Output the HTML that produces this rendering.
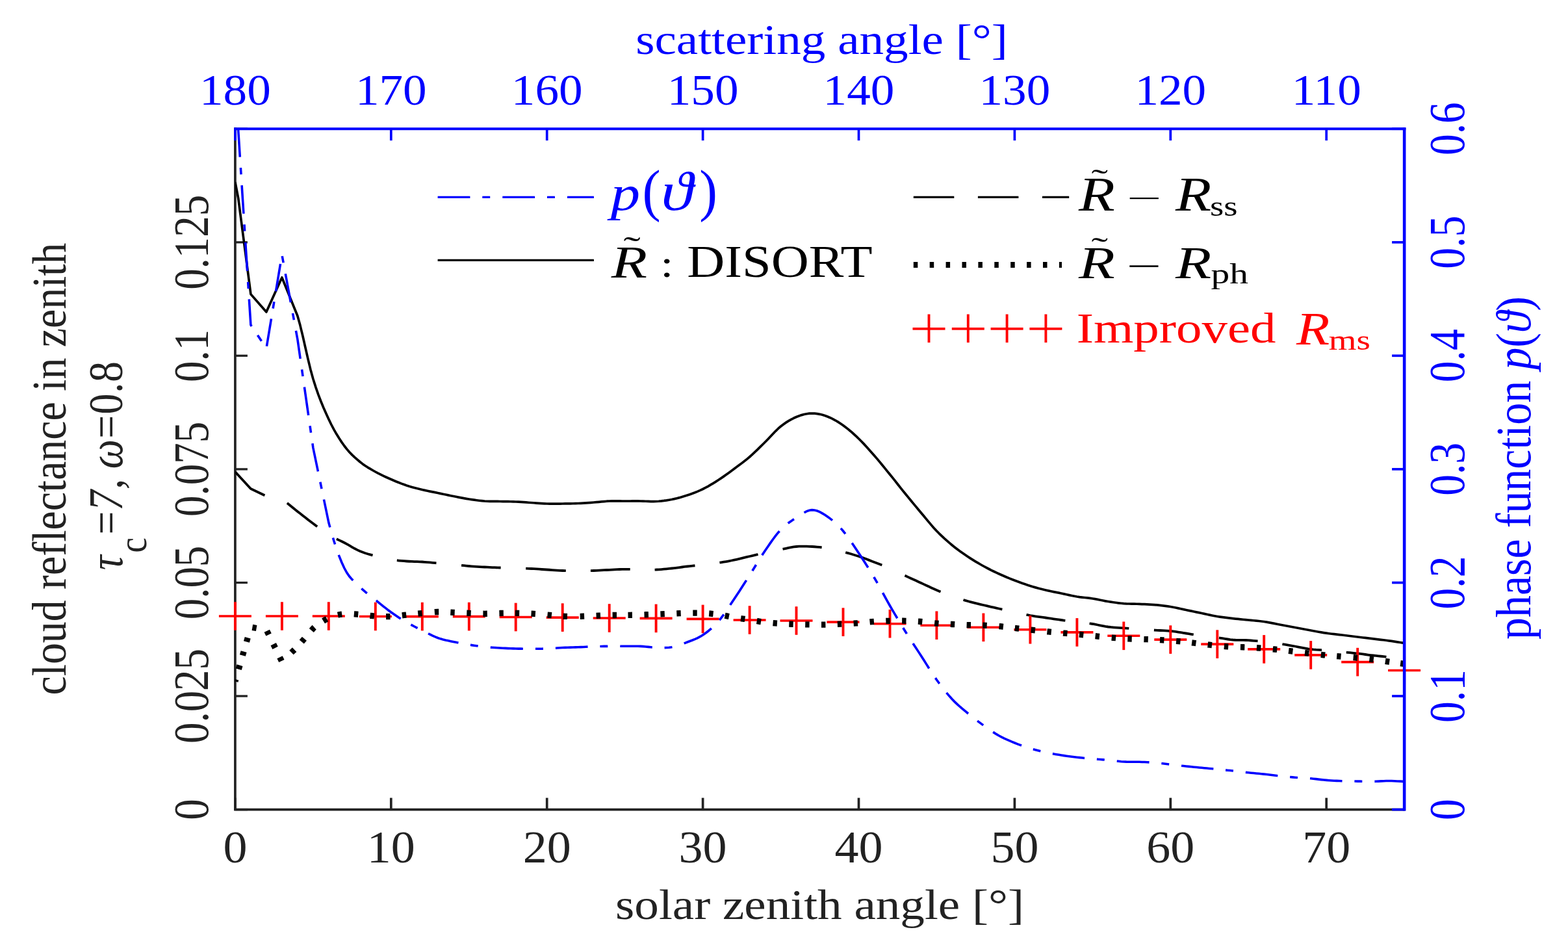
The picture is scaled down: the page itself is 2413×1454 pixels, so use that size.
<!DOCTYPE html>
<html><head><meta charset="utf-8"><style>
html,body{margin:0;padding:0;background:#fff;}
svg{display:block;}
text{font-family:'Liberation Serif',serif;font-variant-ligatures:none;font-kerning:normal;}
</style></head><body>
<svg width="2413" height="1454" viewBox="0 0 2413 1454">
<rect width="2413" height="1454" fill="#fff"/>
<path d="M361.9,198.2 V1245.6 H2161.1" stroke="#222222" stroke-width="3.7" fill="none" stroke-linecap="square"/>
<line x1="361.9" y1="1245.6" x2="380.9" y2="1245.6" stroke="#222222" stroke-width="3.3"/>
<line x1="361.9" y1="1071.0" x2="380.9" y2="1071.0" stroke="#222222" stroke-width="3.3"/>
<line x1="361.9" y1="896.5" x2="380.9" y2="896.5" stroke="#222222" stroke-width="3.3"/>
<line x1="361.9" y1="721.9" x2="380.9" y2="721.9" stroke="#222222" stroke-width="3.3"/>
<line x1="361.9" y1="547.3" x2="380.9" y2="547.3" stroke="#222222" stroke-width="3.3"/>
<line x1="361.9" y1="372.8" x2="380.9" y2="372.8" stroke="#222222" stroke-width="3.3"/>
<line x1="361.9" y1="198.2" x2="380.9" y2="198.2" stroke="#222222" stroke-width="3.3"/>
<line x1="361.9" y1="1245.6" x2="361.9" y2="1227.6" stroke="#222222" stroke-width="3.7"/>
<line x1="601.8" y1="1245.6" x2="601.8" y2="1227.6" stroke="#222222" stroke-width="3.7"/>
<line x1="841.7" y1="1245.6" x2="841.7" y2="1227.6" stroke="#222222" stroke-width="3.7"/>
<line x1="1081.6" y1="1245.6" x2="1081.6" y2="1227.6" stroke="#222222" stroke-width="3.7"/>
<line x1="1321.5" y1="1245.6" x2="1321.5" y2="1227.6" stroke="#222222" stroke-width="3.7"/>
<line x1="1561.4" y1="1245.6" x2="1561.4" y2="1227.6" stroke="#222222" stroke-width="3.7"/>
<line x1="1801.3" y1="1245.6" x2="1801.3" y2="1227.6" stroke="#222222" stroke-width="3.7"/>
<line x1="2041.2" y1="1245.6" x2="2041.2" y2="1227.6" stroke="#222222" stroke-width="3.7"/>
<defs><clipPath id="ax"><rect x="361.9" y="198.2" width="1799.3" height="1047.4"/></clipPath></defs>
<g clip-path="url(#ax)"><path d="M361.90,280.00 L366.70,305.00 L385.89,452.60 L409.88,480.00 L433.87,427.00 L457.86,486.00 L461.86,500.37 L465.86,516.81 L469.85,534.31 L473.85,551.85 L477.85,568.42 L481.85,583.00 L485.85,595.60 L489.85,607.04 L493.84,617.50 L497.84,627.19 L501.84,636.29 L505.84,645.00 L509.84,653.24 L513.84,660.83 L517.83,667.84 L521.83,674.33 L525.83,680.36 L529.83,686.00 L533.83,691.14 L537.83,695.72 L541.82,699.84 L545.82,703.61 L549.82,707.13 L553.82,710.50 L557.82,713.65 L561.82,716.48 L565.81,719.06 L569.81,721.46 L573.81,723.75 L577.81,726.00 L581.81,728.17 L585.81,730.20 L589.80,732.12 L593.80,733.96 L597.80,735.75 L601.80,737.50 L605.80,739.23 L609.80,740.93 L613.79,742.56 L617.79,744.13 L621.79,745.61 L625.79,747.00 L629.79,748.27 L633.79,749.44 L637.78,750.53 L641.78,751.56 L645.78,752.54 L649.78,753.50 L653.78,754.42 L657.78,755.28 L661.77,756.09 L665.77,756.89 L669.77,757.68 L673.77,758.50 L677.77,759.34 L681.77,760.19 L685.76,761.03 L689.76,761.87 L693.76,762.70 L697.76,763.50 L701.76,764.30 L705.76,765.09 L709.75,765.88 L713.75,766.63 L717.75,767.34 L721.75,768.00 L725.75,768.62 L729.75,769.20 L733.75,769.75 L737.74,770.24 L741.74,770.66 L745.74,771.00 L749.74,771.23 L753.74,771.35 L757.74,771.41 L761.73,771.43 L765.73,771.45 L769.73,771.50 L773.73,771.57 L777.73,771.63 L781.73,771.69 L785.72,771.76 L789.72,771.86 L793.72,772.00 L797.72,772.19 L801.72,772.43 L805.71,772.69 L809.71,772.96 L813.71,773.24 L817.71,773.50 L821.71,773.77 L825.71,774.06 L829.70,774.34 L833.70,774.61 L837.70,774.84 L841.70,775.00 L845.70,775.09 L849.70,775.13 L853.69,775.12 L857.69,775.09 L861.69,775.05 L865.69,775.00 L869.69,774.96 L873.69,774.91 L877.68,774.84 L881.68,774.76 L885.68,774.65 L889.68,774.50 L893.68,774.31 L897.68,774.09 L901.67,773.84 L905.67,773.57 L909.67,773.29 L913.67,773.00 L917.67,772.67 L921.67,772.30 L925.66,771.91 L929.66,771.54 L933.66,771.22 L937.66,771.00 L941.66,770.88 L945.66,770.85 L949.65,770.88 L953.65,770.93 L957.65,770.98 L961.65,771.00 L965.65,770.99 L969.65,770.98 L973.64,770.97 L977.64,770.96 L981.64,770.97 L985.64,771.00 L989.64,771.09 L993.64,771.26 L997.63,771.44 L1001.63,771.57 L1005.63,771.61 L1009.63,771.50 L1013.63,771.24 L1017.63,770.89 L1021.62,770.44 L1025.62,769.89 L1029.62,769.24 L1033.62,768.50 L1037.62,767.65 L1041.62,766.70 L1045.61,765.66 L1049.61,764.52 L1053.61,763.30 L1057.61,762.00 L1061.61,760.64 L1065.61,759.22 L1069.61,757.72 L1073.60,756.11 L1077.60,754.38 L1081.60,752.50 L1085.60,750.46 L1089.60,748.28 L1093.59,745.97 L1097.59,743.56 L1101.59,741.06 L1105.59,738.50 L1109.59,735.86 L1113.59,733.11 L1117.59,730.28 L1121.58,727.39 L1125.58,724.45 L1129.58,721.50 L1133.58,718.56 L1137.58,715.61 L1141.57,712.62 L1145.57,709.56 L1149.57,706.36 L1153.57,703.00 L1157.57,699.44 L1161.57,695.70 L1165.57,691.84 L1169.56,687.91 L1173.56,683.94 L1177.56,680.00 L1181.56,675.95 L1185.56,671.72 L1189.55,667.47 L1193.55,663.33 L1197.55,659.46 L1201.55,656.00 L1205.55,652.93 L1209.55,650.13 L1213.55,647.59 L1217.54,645.31 L1221.54,643.29 L1225.54,641.50 L1229.54,639.94 L1233.54,638.61 L1237.53,637.53 L1241.53,636.72 L1245.53,636.20 L1249.53,636.00 L1253.53,636.13 L1257.53,636.57 L1261.53,637.31 L1265.52,638.31 L1269.52,639.55 L1273.52,641.00 L1277.52,642.68 L1281.52,644.61 L1285.51,646.78 L1289.51,649.17 L1293.51,651.75 L1297.51,654.50 L1301.51,657.45 L1305.51,660.61 L1309.50,663.97 L1313.50,667.50 L1317.50,671.18 L1321.50,675.00 L1325.50,678.98 L1329.50,683.15 L1333.49,687.47 L1337.49,691.91 L1341.49,696.43 L1345.49,701.00 L1349.49,705.65 L1353.49,710.41 L1357.48,715.25 L1361.48,720.15 L1365.48,725.07 L1369.48,730.00 L1373.48,734.95 L1377.48,739.96 L1381.47,745.00 L1385.47,750.04 L1389.47,755.05 L1393.47,760.00 L1397.47,764.90 L1401.47,769.78 L1405.46,774.62 L1409.46,779.44 L1413.46,784.24 L1417.46,789.00 L1421.46,793.79 L1425.46,798.63 L1429.45,803.44 L1433.45,808.15 L1437.45,812.69 L1441.45,817.00 L1445.45,821.07 L1449.45,824.94 L1453.44,828.66 L1457.44,832.22 L1461.44,835.66 L1465.44,839.00 L1469.44,842.21 L1473.44,845.28 L1477.43,848.22 L1481.43,851.06 L1485.43,853.81 L1489.43,856.50 L1493.43,859.12 L1497.43,861.65 L1501.42,864.09 L1505.42,866.46 L1509.42,868.76 L1513.42,871.00 L1517.42,873.17 L1521.42,875.26 L1525.41,877.28 L1529.41,879.24 L1533.41,881.14 L1537.41,883.00 L1541.41,884.80 L1545.41,886.54 L1549.40,888.22 L1553.40,889.85 L1557.40,891.44 L1561.40,893.00 L1565.40,894.53 L1569.40,896.02 L1573.39,897.47 L1577.39,898.87 L1581.39,900.22 L1585.39,901.50 L1589.39,902.72 L1593.39,903.87 L1597.38,904.97 L1601.38,906.02 L1605.38,907.03 L1609.38,908.00 L1613.38,908.92 L1617.38,909.78 L1621.38,910.59 L1625.37,911.39 L1629.37,912.18 L1633.37,913.00 L1637.37,913.86 L1641.37,914.74 L1645.36,915.62 L1649.36,916.48 L1653.36,917.28 L1657.36,918.00 L1661.36,918.60 L1665.36,919.09 L1669.35,919.53 L1673.35,919.96 L1677.35,920.44 L1681.35,921.00 L1685.35,921.68 L1689.35,922.44 L1693.34,923.24 L1697.34,924.05 L1701.34,924.81 L1705.34,925.50 L1709.34,926.12 L1713.34,926.72 L1717.33,927.28 L1721.33,927.79 L1725.33,928.23 L1729.33,928.60 L1733.33,928.86 L1737.33,929.02 L1741.32,929.12 L1745.32,929.19 L1749.32,929.27 L1753.32,929.40 L1757.32,929.56 L1761.32,929.71 L1765.31,929.87 L1769.31,930.06 L1773.31,930.30 L1777.31,930.60 L1781.31,930.96 L1785.31,931.36 L1789.30,931.81 L1793.30,932.31 L1797.30,932.88 L1801.30,933.50 L1805.30,934.21 L1809.30,935.01 L1813.29,935.87 L1817.29,936.76 L1821.29,937.64 L1825.29,938.50 L1829.29,939.33 L1833.29,940.17 L1837.28,941.00 L1841.28,941.83 L1845.28,942.67 L1849.28,943.50 L1853.28,944.36 L1857.28,945.24 L1861.27,946.12 L1865.27,946.97 L1869.27,947.78 L1873.27,948.50 L1877.27,949.13 L1881.27,949.70 L1885.26,950.21 L1889.26,950.69 L1893.26,951.15 L1897.26,951.60 L1901.26,952.04 L1905.26,952.45 L1909.25,952.84 L1913.25,953.22 L1917.25,953.60 L1921.25,954.00 L1925.25,954.39 L1929.25,954.75 L1933.24,955.12 L1937.24,955.51 L1941.24,955.97 L1945.24,956.50 L1949.24,957.13 L1953.24,957.85 L1957.23,958.62 L1961.23,959.43 L1965.23,960.23 L1969.23,961.00 L1973.23,961.75 L1977.23,962.50 L1981.22,963.25 L1985.22,964.00 L1989.22,964.75 L1993.22,965.50 L1997.22,966.25 L2001.22,967.01 L2005.21,967.77 L2009.21,968.52 L2013.21,969.27 L2017.21,970.00 L2021.21,970.73 L2025.21,971.47 L2029.20,972.21 L2033.20,972.91 L2037.20,973.58 L2041.20,974.20 L2045.20,974.75 L2049.20,975.23 L2053.19,975.68 L2057.19,976.10 L2061.19,976.54 L2065.19,977.00 L2069.19,977.49 L2073.19,977.99 L2077.18,978.49 L2081.18,979.00 L2085.18,979.50 L2089.18,980.00 L2093.18,980.49 L2097.18,980.97 L2101.17,981.46 L2105.17,981.94 L2109.17,982.42 L2113.17,982.90 L2117.17,983.37 L2121.17,983.84 L2125.16,984.30 L2129.16,984.77 L2133.16,985.27 L2137.16,985.80 L2141.44,986.41 L2146.05,987.11 L2150.65,987.83 L2154.93,988.51 L2158.54,989.09 L2161.15,989.50" fill="none" stroke="#000" stroke-width="3.7" stroke-linejoin="round"/></g>
<g clip-path="url(#ax)"><path d="M361.90,726.00 L385.89,752.00 L409.88,763.50 L413.88,764.62 L417.88,765.31 L421.88,765.84 L425.87,766.46 L429.87,767.43 L433.87,769.00 L437.87,771.27 L441.87,774.06 L445.87,777.19 L449.86,780.50 L453.86,783.83 L457.86,787.00 L461.86,790.07 L465.86,793.17 L469.85,796.28 L473.85,799.39 L477.85,802.47 L481.85,805.50 L485.85,808.54 L489.85,811.61 L493.84,814.66 L497.84,817.61 L501.84,820.41 L505.84,823.00 L509.84,825.31 L513.84,827.37 L517.83,829.28 L521.83,831.13 L525.83,833.01 L529.83,835.00 L533.83,837.17 L537.83,839.46 L541.82,841.78 L545.82,844.04 L549.82,846.14 L553.82,848.00 L557.82,849.59 L561.82,850.98 L565.81,852.22 L569.81,853.35 L573.81,854.43 L577.81,855.50 L581.81,856.57 L585.81,857.59 L589.80,858.56 L593.80,859.46 L597.80,860.28 L601.80,861.00 L605.80,861.61 L609.80,862.11 L613.79,862.53 L617.79,862.89 L621.79,863.20 L625.79,863.50 L629.79,863.74 L633.79,863.91 L637.78,864.03 L641.78,864.15 L645.78,864.29 L649.78,864.50 L653.78,864.78 L657.78,865.09 L661.77,865.44 L665.77,865.80 L669.77,866.16 L673.77,866.50 L677.77,866.83 L681.77,867.15 L685.76,867.47 L689.76,867.80 L693.76,868.14 L697.76,868.50 L701.76,868.90 L705.76,869.33 L709.75,869.78 L713.75,870.22 L717.75,870.64 L721.75,871.00 L725.75,871.31 L729.75,871.59 L733.75,871.84 L737.74,872.07 L741.74,872.29 L745.74,872.50 L749.74,872.70 L753.74,872.89 L757.74,873.06 L761.73,873.22 L765.73,873.37 L769.73,873.50 L773.73,873.61 L777.73,873.69 L781.73,873.75 L785.72,873.81 L789.72,873.89 L793.72,874.00 L797.72,874.13 L801.72,874.28 L805.71,874.44 L809.71,874.61 L813.71,874.80 L817.71,875.00 L821.71,875.22 L825.71,875.46 L829.70,875.72 L833.70,875.98 L837.70,876.24 L841.70,876.50 L845.70,876.77 L849.70,877.05 L853.69,877.33 L857.69,877.60 L861.69,877.83 L865.69,878.00 L869.69,878.11 L873.69,878.18 L877.68,878.21 L881.68,878.21 L885.68,878.20 L889.68,878.20 L893.68,878.20 L897.68,878.20 L901.67,878.19 L905.67,878.16 L909.67,878.10 L913.67,878.00 L917.67,877.86 L921.67,877.67 L925.66,877.45 L929.66,877.22 L933.66,877.00 L937.66,876.80 L941.66,876.61 L945.66,876.40 L949.65,876.20 L953.65,876.02 L957.65,875.88 L961.65,875.80 L965.65,875.79 L969.65,875.83 L973.64,875.92 L977.64,876.02 L981.64,876.12 L985.64,876.20 L989.64,876.28 L993.64,876.39 L997.63,876.50 L1001.63,876.57 L1005.63,876.58 L1009.63,876.50 L1013.63,876.31 L1017.63,876.04 L1021.62,875.71 L1025.62,875.33 L1029.62,874.92 L1033.62,874.50 L1037.62,874.05 L1041.62,873.56 L1045.61,873.03 L1049.61,872.50 L1053.61,871.98 L1057.61,871.50 L1061.61,871.06 L1065.61,870.65 L1069.61,870.25 L1073.60,869.85 L1077.60,869.44 L1081.60,869.00 L1085.60,868.54 L1089.60,868.09 L1093.59,867.61 L1097.59,867.11 L1101.59,866.58 L1105.59,866.00 L1109.59,865.37 L1113.59,864.71 L1117.59,864.02 L1121.58,863.29 L1125.58,862.51 L1129.58,861.70 L1133.58,860.83 L1137.58,859.90 L1141.57,858.93 L1145.57,857.94 L1149.57,856.95 L1153.57,856.00 L1157.57,855.07 L1161.57,854.13 L1165.57,853.21 L1169.56,852.29 L1173.56,851.39 L1177.56,850.50 L1181.56,849.63 L1185.56,848.78 L1189.55,847.94 L1193.55,847.11 L1197.55,846.30 L1201.55,845.50 L1205.55,844.67 L1209.55,843.80 L1213.55,842.94 L1217.54,842.15 L1221.54,841.48 L1225.54,841.00 L1229.54,840.71 L1233.54,840.57 L1237.53,840.56 L1241.53,840.65 L1245.53,840.80 L1249.53,841.00 L1253.53,841.24 L1257.53,841.54 L1261.53,841.91 L1265.52,842.35 L1269.52,842.88 L1273.52,843.50 L1277.52,844.23 L1281.52,845.06 L1285.51,845.97 L1289.51,846.94 L1293.51,847.96 L1297.51,849.00 L1301.51,850.06 L1305.51,851.15 L1309.50,852.28 L1313.50,853.46 L1317.50,854.70 L1321.50,856.00 L1325.50,857.38 L1329.50,858.83 L1333.49,860.34 L1337.49,861.89 L1341.49,863.45 L1345.49,865.00 L1349.49,866.53 L1353.49,868.06 L1357.48,869.59 L1361.48,871.17 L1365.48,872.80 L1369.48,874.50 L1373.48,876.31 L1377.48,878.20 L1381.47,880.16 L1385.47,882.13 L1389.47,884.09 L1393.47,886.00 L1397.47,887.86 L1401.47,889.70 L1405.46,891.53 L1409.46,893.35 L1413.46,895.17 L1417.46,897.00 L1421.46,898.85 L1425.46,900.72 L1429.45,902.59 L1433.45,904.44 L1437.45,906.25 L1441.45,908.00 L1445.45,909.69 L1449.45,911.35 L1453.44,912.97 L1457.44,914.54 L1461.44,916.05 L1465.44,917.50 L1469.44,918.88 L1473.44,920.20 L1477.43,921.47 L1481.43,922.69 L1485.43,923.86 L1489.43,925.00 L1493.43,926.09 L1497.43,927.13 L1501.42,928.12 L1505.42,929.09 L1509.42,930.05 L1513.42,931.00 L1517.42,931.95 L1521.42,932.89 L1525.41,933.81 L1529.41,934.72 L1533.41,935.62 L1537.41,936.50 L1541.41,937.36 L1545.41,938.19 L1549.40,939.00 L1553.40,939.81 L1557.40,940.64 L1561.40,941.50 L1565.40,942.41 L1569.40,943.37 L1573.39,944.34 L1577.39,945.30 L1581.39,946.19 L1585.39,947.00 L1589.39,947.70 L1593.39,948.31 L1597.38,948.88 L1601.38,949.41 L1605.38,949.94 L1609.38,950.50 L1613.38,951.09 L1617.38,951.69 L1621.38,952.28 L1625.37,952.87 L1629.37,953.45 L1633.37,954.00 L1637.37,954.53 L1641.37,955.04 L1645.36,955.53 L1649.36,956.02 L1653.36,956.51 L1657.36,957.00 L1661.36,957.48 L1665.36,957.94 L1669.35,958.41 L1673.35,958.89 L1677.35,959.41 L1681.35,960.00 L1685.35,960.69 L1689.35,961.49 L1693.34,962.32 L1697.34,963.14 L1701.34,963.88 L1705.34,964.50 L1709.34,964.97 L1713.34,965.34 L1717.33,965.63 L1721.33,965.89 L1725.33,966.13 L1729.33,966.40 L1733.33,966.68 L1737.33,966.96 L1741.32,967.22 L1745.32,967.48 L1749.32,967.74 L1753.32,968.00 L1757.32,968.27 L1761.32,968.54 L1765.31,968.81 L1769.31,969.08 L1773.31,969.34 L1777.31,969.60 L1781.31,969.82 L1785.31,970.00 L1789.30,970.18 L1793.30,970.39 L1797.30,970.65 L1801.30,971.00 L1805.30,971.46 L1809.30,971.99 L1813.29,972.59 L1817.29,973.22 L1821.29,973.86 L1825.29,974.50 L1829.29,975.16 L1833.29,975.85 L1837.28,976.56 L1841.28,977.26 L1845.28,977.91 L1849.28,978.50 L1853.28,978.99 L1857.28,979.41 L1861.27,979.78 L1865.27,980.15 L1869.27,980.54 L1873.27,981.00 L1877.27,981.56 L1881.27,982.20 L1885.26,982.86 L1889.26,983.50 L1893.26,984.07 L1897.26,984.50 L1901.26,984.76 L1905.26,984.88 L1909.25,984.92 L1913.25,984.95 L1917.25,985.02 L1921.25,985.20 L1925.25,985.48 L1929.25,985.82 L1933.24,986.21 L1937.24,986.62 L1941.24,987.06 L1945.24,987.50 L1949.24,987.95 L1953.24,988.41 L1957.23,988.89 L1961.23,989.40 L1965.23,989.93 L1969.23,990.50 L1973.23,991.10 L1977.23,991.74 L1981.22,992.41 L1985.22,993.09 L1989.22,993.79 L1993.22,994.50 L1997.22,995.26 L2001.22,996.07 L2005.21,996.91 L2009.21,997.70 L2013.21,998.42 L2017.21,999.00 L2021.21,999.41 L2025.21,999.69 L2029.20,999.88 L2033.20,1000.04 L2037.20,1000.23 L2041.20,1000.50 L2045.20,1000.86 L2049.20,1001.26 L2053.19,1001.69 L2057.19,1002.13 L2061.19,1002.57 L2065.19,1003.00 L2069.19,1003.41 L2073.19,1003.81 L2077.18,1004.22 L2081.18,1004.63 L2085.18,1005.05 L2089.18,1005.50 L2093.18,1005.98 L2097.18,1006.48 L2101.17,1007.00 L2105.17,1007.52 L2109.17,1008.02 L2113.17,1008.50 L2117.17,1008.94 L2121.17,1009.35 L2125.16,1009.75 L2129.16,1010.15 L2133.16,1010.56 L2137.16,1011.00 L2141.44,1011.51 L2146.05,1012.07 L2150.65,1012.66 L2154.93,1013.20 L2158.54,1013.67 L2161.15,1014.00" fill="none" stroke="#000" stroke-width="3.8" stroke-dasharray="0.00 0.06 59.18 36.94 58.79 35.34 61.28 38.17 60.78 38.75 60.69 38.59 61.73 38.10 60.85 37.91 62.21 38.23 60.49 38.87 60.49 37.47 59.44 38.64 60.50 37.15 61.63 38.02 60.53 37.50 61.30 38.71 61.28 39.49 59.96 38.15 61.32 38.00 62.02 1027.94"/></g>
<path d="M336.9,948.0 H386.9" stroke="#ff0000" stroke-width="3.6" fill="none"/><path d="M361.9,926.2 V969.8" stroke="#ff0000" stroke-width="3.9" fill="none"/>
<path d="M408.9,948.0 H458.9" stroke="#ff0000" stroke-width="3.6" fill="none"/><path d="M433.9,926.2 V969.8" stroke="#ff0000" stroke-width="3.9" fill="none"/>
<path d="M480.8,948.0 H530.8" stroke="#ff0000" stroke-width="3.6" fill="none"/><path d="M505.8,926.2 V969.8" stroke="#ff0000" stroke-width="3.9" fill="none"/>
<path d="M552.8,948.5 H602.8" stroke="#ff0000" stroke-width="3.6" fill="none"/><path d="M577.8,926.7 V970.3" stroke="#ff0000" stroke-width="3.9" fill="none"/>
<path d="M624.8,948.6 H674.8" stroke="#ff0000" stroke-width="3.6" fill="none"/><path d="M649.8,926.8 V970.4" stroke="#ff0000" stroke-width="3.9" fill="none"/>
<path d="M696.8,948.6 H746.8" stroke="#ff0000" stroke-width="3.6" fill="none"/><path d="M721.8,926.8 V970.4" stroke="#ff0000" stroke-width="3.9" fill="none"/>
<path d="M768.7,949.5 H818.7" stroke="#ff0000" stroke-width="3.6" fill="none"/><path d="M793.7,927.7 V971.3" stroke="#ff0000" stroke-width="3.9" fill="none"/>
<path d="M840.7,950.1 H890.7" stroke="#ff0000" stroke-width="3.6" fill="none"/><path d="M865.7,928.3 V971.9" stroke="#ff0000" stroke-width="3.9" fill="none"/>
<path d="M912.7,951.0 H962.7" stroke="#ff0000" stroke-width="3.6" fill="none"/><path d="M937.7,929.2 V972.8" stroke="#ff0000" stroke-width="3.9" fill="none"/>
<path d="M984.6,951.4 H1034.6" stroke="#ff0000" stroke-width="3.6" fill="none"/><path d="M1009.6,929.6 V973.2" stroke="#ff0000" stroke-width="3.9" fill="none"/>
<path d="M1056.6,952.4 H1106.6" stroke="#ff0000" stroke-width="3.6" fill="none"/><path d="M1081.6,930.6 V974.2" stroke="#ff0000" stroke-width="3.9" fill="none"/>
<path d="M1128.6,954.0 H1178.6" stroke="#ff0000" stroke-width="3.6" fill="none"/><path d="M1153.6,932.2 V975.8" stroke="#ff0000" stroke-width="3.9" fill="none"/>
<path d="M1200.5,955.0 H1250.5" stroke="#ff0000" stroke-width="3.6" fill="none"/><path d="M1225.5,933.2 V976.8" stroke="#ff0000" stroke-width="3.9" fill="none"/>
<path d="M1272.5,957.1 H1322.5" stroke="#ff0000" stroke-width="3.6" fill="none"/><path d="M1297.5,935.3 V978.9" stroke="#ff0000" stroke-width="3.9" fill="none"/>
<path d="M1344.5,959.7 H1394.5" stroke="#ff0000" stroke-width="3.6" fill="none"/><path d="M1369.5,937.9 V981.5" stroke="#ff0000" stroke-width="3.9" fill="none"/>
<path d="M1416.4,962.2 H1466.4" stroke="#ff0000" stroke-width="3.6" fill="none"/><path d="M1441.4,940.4 V984.0" stroke="#ff0000" stroke-width="3.9" fill="none"/>
<path d="M1488.4,965.3 H1538.4" stroke="#ff0000" stroke-width="3.6" fill="none"/><path d="M1513.4,943.5 V987.1" stroke="#ff0000" stroke-width="3.9" fill="none"/>
<path d="M1560.4,968.8 H1610.4" stroke="#ff0000" stroke-width="3.6" fill="none"/><path d="M1585.4,947.0 V990.6" stroke="#ff0000" stroke-width="3.9" fill="none"/>
<path d="M1632.4,972.9 H1682.4" stroke="#ff0000" stroke-width="3.6" fill="none"/><path d="M1657.4,951.1 V994.7" stroke="#ff0000" stroke-width="3.9" fill="none"/>
<path d="M1704.3,978.3 H1754.3" stroke="#ff0000" stroke-width="3.6" fill="none"/><path d="M1729.3,956.5 V1000.1" stroke="#ff0000" stroke-width="3.9" fill="none"/>
<path d="M1776.3,984.1 H1826.3" stroke="#ff0000" stroke-width="3.6" fill="none"/><path d="M1801.3,962.3 V1005.9" stroke="#ff0000" stroke-width="3.9" fill="none"/>
<path d="M1848.3,991.1 H1898.3" stroke="#ff0000" stroke-width="3.6" fill="none"/><path d="M1873.3,969.3 V1012.9" stroke="#ff0000" stroke-width="3.9" fill="none"/>
<path d="M1920.2,998.9 H1970.2" stroke="#ff0000" stroke-width="3.6" fill="none"/><path d="M1945.2,977.1 V1020.7" stroke="#ff0000" stroke-width="3.9" fill="none"/>
<path d="M1992.2,1007.9 H2042.2" stroke="#ff0000" stroke-width="3.6" fill="none"/><path d="M2017.2,986.1 V1029.7" stroke="#ff0000" stroke-width="3.9" fill="none"/>
<path d="M2064.2,1018.6 H2114.2" stroke="#ff0000" stroke-width="3.6" fill="none"/><path d="M2089.2,996.8 V1040.4" stroke="#ff0000" stroke-width="3.9" fill="none"/>
<path d="M2136.1,1031.5 H2186.1" stroke="#ff0000" stroke-width="3.6" fill="none"/><path d="M2161.1,1009.7 V1053.3" stroke="#ff0000" stroke-width="3.9" fill="none"/>
<g clip-path="url(#ax)"><path d="M361.90,1048.40 L385.89,965.00 L409.88,969.00 L433.87,1018.00 L457.86,995.00 L481.85,967.00 L485.85,963.53 L489.85,960.43 L493.84,957.66 L497.84,955.19 L501.84,952.98 L505.84,951.00 L509.84,949.28 L513.84,947.85 L517.83,946.69 L521.83,945.76 L525.83,945.04 L529.83,944.50 L533.83,944.22 L537.83,944.22 L541.82,944.44 L545.82,944.78 L549.82,945.16 L553.82,945.50 L557.82,945.85 L561.82,946.30 L565.81,946.78 L569.81,947.26 L573.81,947.68 L577.81,948.00 L581.81,948.23 L585.81,948.43 L589.80,948.56 L593.80,948.63 L597.80,948.61 L601.80,948.50 L605.80,948.26 L609.80,947.89 L613.79,947.44 L617.79,946.94 L621.79,946.45 L625.79,946.00 L629.79,945.58 L633.79,945.15 L637.78,944.72 L641.78,944.30 L645.78,943.89 L649.78,943.50 L653.78,943.10 L657.78,942.69 L661.77,942.29 L665.77,941.93 L669.77,941.66 L673.77,941.50 L677.77,941.48 L681.77,941.58 L685.76,941.76 L689.76,941.99 L693.76,942.21 L697.76,942.40 L701.76,942.56 L705.76,942.73 L709.75,942.90 L713.75,943.07 L717.75,943.24 L721.75,943.40 L725.75,943.58 L729.75,943.77 L733.75,943.96 L737.74,944.13 L741.74,944.25 L745.74,944.30 L749.74,944.26 L753.74,944.13 L757.74,943.96 L761.73,943.78 L765.73,943.61 L769.73,943.50 L773.73,943.43 L777.73,943.38 L781.73,943.35 L785.72,943.34 L789.72,943.36 L793.72,943.40 L797.72,943.47 L801.72,943.56 L805.71,943.68 L809.71,943.83 L813.71,944.00 L817.71,944.20 L821.71,944.44 L825.71,944.71 L829.70,945.01 L833.70,945.33 L837.70,945.67 L841.70,946.00 L845.70,946.37 L849.70,946.78 L853.69,947.20 L857.69,947.60 L861.69,947.94 L865.69,948.20 L869.69,948.36 L873.69,948.46 L877.68,948.49 L881.68,948.49 L885.68,948.45 L889.68,948.40 L893.68,948.31 L897.68,948.18 L901.67,948.02 L905.67,947.84 L909.67,947.66 L913.67,947.50 L917.67,947.34 L921.67,947.17 L925.66,947.01 L929.66,946.85 L933.66,946.71 L937.66,946.60 L941.66,946.53 L945.66,946.49 L949.65,946.47 L953.65,946.46 L957.65,946.44 L961.65,946.40 L965.65,946.35 L969.65,946.30 L973.64,946.24 L977.64,946.17 L981.64,946.09 L985.64,946.00 L989.64,945.89 L993.64,945.77 L997.63,945.64 L1001.63,945.50 L1005.63,945.35 L1009.63,945.20 L1013.63,945.04 L1017.63,944.88 L1021.62,944.71 L1025.62,944.54 L1029.62,944.37 L1033.62,944.20 L1037.62,944.02 L1041.62,943.83 L1045.61,943.63 L1049.61,943.45 L1053.61,943.30 L1057.61,943.20 L1061.61,943.13 L1065.61,943.07 L1069.61,943.05 L1073.60,943.07 L1077.60,943.15 L1081.60,943.30 L1085.60,943.52 L1089.60,943.79 L1093.59,944.12 L1097.59,944.52 L1101.59,944.98 L1105.59,945.50 L1109.59,946.13 L1113.59,946.87 L1117.59,947.67 L1121.58,948.49 L1125.58,949.28 L1129.58,950.00 L1133.58,950.64 L1137.58,951.22 L1141.57,951.78 L1145.57,952.33 L1149.57,952.90 L1153.57,953.50 L1157.57,954.16 L1161.57,954.87 L1165.57,955.59 L1169.56,956.30 L1173.56,956.94 L1177.56,957.50 L1181.56,957.96 L1185.56,958.35 L1189.55,958.69 L1193.55,958.98 L1197.55,959.25 L1201.55,959.50 L1205.55,959.73 L1209.55,959.93 L1213.55,960.09 L1217.54,960.24 L1221.54,960.37 L1225.54,960.50 L1229.54,960.62 L1233.54,960.72 L1237.53,960.81 L1241.53,960.89 L1245.53,960.95 L1249.53,961.00 L1253.53,961.04 L1257.53,961.07 L1261.53,961.09 L1265.52,961.09 L1269.52,961.06 L1273.52,961.00 L1277.52,960.89 L1281.52,960.75 L1285.51,960.58 L1289.51,960.39 L1293.51,960.20 L1297.51,960.00 L1301.51,959.81 L1305.51,959.63 L1309.50,959.44 L1313.50,959.23 L1317.50,958.98 L1321.50,958.70 L1325.50,958.35 L1329.50,957.93 L1333.49,957.48 L1337.49,957.04 L1341.49,956.63 L1345.49,956.30 L1349.49,956.04 L1353.49,955.83 L1357.48,955.65 L1361.48,955.51 L1365.48,955.39 L1369.48,955.30 L1373.48,955.23 L1377.48,955.18 L1381.47,955.16 L1385.47,955.17 L1389.47,955.22 L1393.47,955.30 L1397.47,955.41 L1401.47,955.56 L1405.46,955.74 L1409.46,955.95 L1413.46,956.21 L1417.46,956.50 L1421.46,956.87 L1425.46,957.31 L1429.45,957.79 L1433.45,958.27 L1437.45,958.72 L1441.45,959.10 L1445.45,959.41 L1449.45,959.67 L1453.44,959.89 L1457.44,960.10 L1461.44,960.30 L1465.44,960.50 L1469.44,960.71 L1473.44,960.91 L1477.43,961.10 L1481.43,961.28 L1485.43,961.45 L1489.43,961.60 L1493.43,961.72 L1497.43,961.81 L1501.42,961.88 L1505.42,961.96 L1509.42,962.06 L1513.42,962.20 L1517.42,962.37 L1521.42,962.56 L1525.41,962.76 L1529.41,963.00 L1533.41,963.28 L1537.41,963.60 L1541.41,963.99 L1545.41,964.44 L1549.40,964.92 L1553.40,965.43 L1557.40,965.93 L1561.40,966.40 L1565.40,966.84 L1569.40,967.28 L1573.39,967.71 L1577.39,968.14 L1581.39,968.57 L1585.39,969.00 L1589.39,969.44 L1593.39,969.88 L1597.38,970.33 L1601.38,970.76 L1605.38,971.19 L1609.38,971.60 L1613.38,971.99 L1617.38,972.37 L1621.38,972.74 L1625.37,973.10 L1629.37,973.45 L1633.37,973.80 L1637.37,974.14 L1641.37,974.46 L1645.36,974.78 L1649.36,975.10 L1653.36,975.44 L1657.36,975.80 L1661.36,976.19 L1665.36,976.60 L1669.35,977.02 L1673.35,977.46 L1677.35,977.88 L1681.35,978.30 L1685.35,978.71 L1689.35,979.13 L1693.34,979.54 L1697.34,979.94 L1701.34,980.33 L1705.34,980.70 L1709.34,981.06 L1713.34,981.41 L1717.33,981.76 L1721.33,982.07 L1725.33,982.36 L1729.33,982.60 L1733.33,982.78 L1737.33,982.91 L1741.32,983.01 L1745.32,983.10 L1749.32,983.19 L1753.32,983.30 L1757.32,983.43 L1761.32,983.56 L1765.31,983.70 L1769.31,983.85 L1773.31,984.01 L1777.31,984.20 L1781.31,984.41 L1785.31,984.63 L1789.30,984.88 L1793.30,985.13 L1797.30,985.41 L1801.30,985.70 L1805.30,986.00 L1809.30,986.32 L1813.29,986.66 L1817.29,987.01 L1821.29,987.39 L1825.29,987.80 L1829.29,988.25 L1833.29,988.74 L1837.28,989.26 L1841.28,989.79 L1845.28,990.31 L1849.28,990.80 L1853.28,991.28 L1857.28,991.76 L1861.27,992.22 L1865.27,992.68 L1869.27,993.11 L1873.27,993.50 L1877.27,993.86 L1881.27,994.21 L1885.26,994.52 L1889.26,994.81 L1893.26,995.07 L1897.26,995.30 L1901.26,995.47 L1905.26,995.58 L1909.25,995.66 L1913.25,995.74 L1917.25,995.84 L1921.25,996.00 L1925.25,996.21 L1929.25,996.44 L1933.24,996.71 L1937.24,996.99 L1941.24,997.29 L1945.24,997.60 L1949.24,997.93 L1953.24,998.27 L1957.23,998.62 L1961.23,999.00 L1965.23,999.39 L1969.23,999.80 L1973.23,1000.23 L1977.23,1000.69 L1981.22,1001.16 L1985.22,1001.64 L1989.22,1002.12 L1993.22,1002.60 L1997.22,1003.08 L2001.22,1003.57 L2005.21,1004.06 L2009.21,1004.54 L2013.21,1005.03 L2017.21,1005.50 L2021.21,1005.97 L2025.21,1006.44 L2029.20,1006.90 L2033.20,1007.35 L2037.20,1007.79 L2041.20,1008.20 L2045.20,1008.59 L2049.20,1008.95 L2053.19,1009.29 L2057.19,1009.63 L2061.19,1009.96 L2065.19,1010.30 L2069.19,1010.63 L2073.19,1010.96 L2077.18,1011.27 L2081.18,1011.60 L2085.18,1011.94 L2089.18,1012.30 L2093.18,1012.68 L2097.18,1013.06 L2101.17,1013.46 L2105.17,1013.88 L2109.17,1014.33 L2113.17,1014.80 L2117.17,1015.32 L2121.17,1015.87 L2125.16,1016.45 L2129.16,1017.04 L2133.16,1017.63 L2137.16,1018.20 L2141.44,1018.79 L2146.05,1019.43 L2150.65,1020.06 L2154.93,1020.65 L2158.54,1021.14 L2161.15,1021.50" fill="none" stroke="#000" stroke-width="9.3" stroke-dasharray="3.28 16.07 6.40 15.69 6.40 15.59 6.40 19.46 6.40 17.40 6.40 16.27 6.40 15.96 6.40 21.38 6.40 16.42 6.40 16.76 6.40 17.00 6.40 17.92 6.40 18.73 6.40 18.38 6.40 18.23 6.40 18.43 6.40 18.17 6.40 19.27 6.40 18.12 6.40 18.62 6.40 18.72 6.40 18.62 6.40 18.00 6.40 18.32 6.40 18.68 6.40 17.79 6.40 19.70 6.40 18.52 6.40 18.62 6.40 17.50 6.40 18.61 6.40 18.51 6.40 18.53 6.40 18.62 6.40 18.50 6.40 18.25 6.40 18.45 6.40 18.57 6.40 18.64 6.40 18.41 6.40 18.51 6.40 18.40 6.40 18.42 6.40 18.44 6.40 18.62 6.40 18.43 6.40 18.40 6.40 18.44 6.40 18.94 6.40 18.34 6.40 18.43 6.40 18.31 6.40 18.85 6.40 18.07 6.40 18.55 6.40 18.55 6.40 18.39 6.40 18.48 6.40 18.43 6.40 18.83 6.40 18.27 6.40 18.70 6.40 18.23 6.40 18.76 6.40 17.75 6.40 18.30 6.40 18.91 6.40 18.73 6.40 18.62 6.40 18.58 6.40 18.03 6.40 18.69 6.40 18.59 6.40 18.09 6.40 19.08 6.40 18.53 6.40 18.28 6.40 17.10 6.06 1000.00"/></g>
<g clip-path="url(#ax)"><path d="M361.90,126.00 L385.89,500.00 L409.88,536.00 L433.87,392.00 L457.86,522.00 L481.85,689.00 L505.84,804.00 L509.84,818.75 L513.84,832.19 L517.83,844.38 L521.83,855.37 L525.83,865.23 L529.83,874.00 L533.83,881.31 L537.83,887.04 L541.82,891.62 L545.82,895.52 L549.82,899.16 L553.82,903.00 L557.82,906.87 L561.82,910.37 L565.81,913.62 L569.81,916.74 L573.81,919.83 L577.81,923.00 L581.81,926.27 L585.81,929.54 L589.80,932.78 L593.80,935.96 L597.80,939.05 L601.80,942.00 L605.80,944.82 L609.80,947.54 L613.79,950.16 L617.79,952.69 L621.79,955.13 L625.79,957.50 L629.79,959.77 L633.79,961.93 L637.78,964.00 L641.78,966.02 L645.78,968.01 L649.78,970.00 L653.78,972.04 L657.78,974.11 L661.77,976.16 L665.77,978.11 L669.77,979.91 L673.77,981.50 L677.77,982.84 L681.77,983.96 L685.76,984.94 L689.76,985.81 L693.76,986.65 L697.76,987.50 L701.76,988.35 L705.76,989.16 L709.75,989.92 L713.75,990.64 L717.75,991.34 L721.75,992.00 L725.75,992.64 L729.75,993.25 L733.75,993.83 L737.74,994.36 L741.74,994.86 L745.74,995.30 L749.74,995.68 L753.74,996.01 L757.74,996.29 L761.73,996.54 L765.73,996.78 L769.73,997.00 L773.73,997.22 L777.73,997.41 L781.73,997.59 L785.72,997.74 L789.72,997.88 L793.72,998.00 L797.72,998.10 L801.72,998.17 L805.71,998.23 L809.71,998.27 L813.71,998.29 L817.71,998.30 L821.71,998.30 L825.71,998.29 L829.70,998.26 L833.70,998.21 L837.70,998.13 L841.70,998.00 L845.70,997.81 L849.70,997.56 L853.69,997.27 L857.69,996.99 L861.69,996.72 L865.69,996.50 L869.69,996.34 L873.69,996.22 L877.68,996.12 L881.68,996.03 L885.68,995.92 L889.68,995.80 L893.68,995.64 L897.68,995.47 L901.67,995.29 L905.67,995.11 L909.67,994.94 L913.67,994.80 L917.67,994.68 L921.67,994.58 L925.66,994.49 L929.66,994.41 L933.66,994.35 L937.66,994.30 L941.66,994.27 L945.66,994.26 L949.65,994.26 L953.65,994.27 L957.65,994.29 L961.65,994.30 L965.65,994.29 L969.65,994.26 L973.64,994.23 L977.64,994.23 L981.64,994.28 L985.64,994.40 L989.64,994.64 L993.64,994.99 L997.63,995.39 L1001.63,995.79 L1005.63,996.11 L1009.63,996.30 L1013.63,996.43 L1017.63,996.55 L1021.62,996.60 L1025.62,996.52 L1029.62,996.24 L1033.62,995.70 L1037.62,994.87 L1041.62,993.78 L1045.61,992.50 L1049.61,991.07 L1053.61,989.56 L1057.61,988.00 L1061.61,986.47 L1065.61,984.95 L1069.61,983.33 L1073.60,981.53 L1077.60,979.45 L1081.60,977.00 L1085.60,974.23 L1089.60,971.22 L1093.59,967.94 L1097.59,964.33 L1101.59,960.37 L1105.59,956.00 L1109.59,951.12 L1113.59,945.74 L1117.59,940.00 L1121.58,934.04 L1125.58,927.99 L1129.58,922.00 L1133.58,916.02 L1137.58,909.93 L1141.57,903.75 L1145.57,897.52 L1149.57,891.26 L1153.57,885.00 L1157.57,878.66 L1161.57,872.19 L1165.57,865.69 L1169.56,859.26 L1173.56,853.00 L1177.56,847.00 L1181.56,841.16 L1185.56,835.39 L1189.55,829.78 L1193.55,824.44 L1197.55,819.48 L1201.55,815.00 L1205.55,811.06 L1209.55,807.59 L1213.55,804.49 L1217.54,801.68 L1221.54,799.05 L1225.54,796.50 L1229.54,793.88 L1233.54,791.22 L1237.53,788.74 L1241.53,786.67 L1245.53,785.22 L1249.53,784.60 L1253.53,784.91 L1257.53,785.99 L1261.53,787.68 L1265.52,789.85 L1269.52,792.34 L1273.52,795.00 L1277.52,797.86 L1281.52,801.03 L1285.51,804.52 L1289.51,808.35 L1293.51,812.50 L1297.51,817.00 L1301.51,821.93 L1305.51,827.30 L1309.50,833.00 L1313.50,838.93 L1317.50,844.96 L1321.50,851.00 L1325.50,857.04 L1329.50,863.19 L1333.49,869.44 L1337.49,875.81 L1341.49,882.33 L1345.49,889.00 L1349.49,895.91 L1353.49,903.07 L1357.48,910.38 L1361.48,917.70 L1365.48,924.95 L1369.48,932.00 L1373.48,938.88 L1377.48,945.67 L1381.47,952.38 L1385.47,959.00 L1389.47,965.54 L1393.47,972.00 L1397.47,978.34 L1401.47,984.56 L1405.46,990.69 L1409.46,996.78 L1413.46,1002.87 L1417.46,1009.00 L1421.46,1015.25 L1425.46,1021.59 L1429.45,1027.94 L1433.45,1034.19 L1437.45,1040.24 L1441.45,1046.00 L1445.45,1051.50 L1449.45,1056.83 L1453.44,1061.97 L1457.44,1066.89 L1461.44,1071.57 L1465.44,1076.00 L1469.44,1080.11 L1473.44,1083.91 L1477.43,1087.47 L1481.43,1090.87 L1485.43,1094.19 L1489.43,1097.50 L1493.43,1100.79 L1497.43,1103.98 L1501.42,1107.09 L1505.42,1110.13 L1509.42,1113.10 L1513.42,1116.00 L1517.42,1118.87 L1521.42,1121.70 L1525.41,1124.47 L1529.41,1127.13 L1533.41,1129.65 L1537.41,1132.00 L1541.41,1134.15 L1545.41,1136.13 L1549.40,1137.97 L1553.40,1139.70 L1557.40,1141.37 L1561.40,1143.00 L1565.40,1144.59 L1569.40,1146.11 L1573.39,1147.56 L1577.39,1148.94 L1581.39,1150.26 L1585.39,1151.50 L1589.39,1152.66 L1593.39,1153.74 L1597.38,1154.75 L1601.38,1155.70 L1605.38,1156.62 L1609.38,1157.50 L1613.38,1158.35 L1617.38,1159.16 L1621.38,1159.92 L1625.37,1160.65 L1629.37,1161.34 L1633.37,1162.00 L1637.37,1162.62 L1641.37,1163.19 L1645.36,1163.73 L1649.36,1164.24 L1653.36,1164.73 L1657.36,1165.20 L1661.36,1165.65 L1665.36,1166.08 L1669.35,1166.48 L1673.35,1166.87 L1677.35,1167.24 L1681.35,1167.60 L1685.35,1167.94 L1689.35,1168.25 L1693.34,1168.54 L1697.34,1168.84 L1701.34,1169.15 L1705.34,1169.50 L1709.34,1169.91 L1713.34,1170.37 L1717.33,1170.85 L1721.33,1171.31 L1725.33,1171.70 L1729.33,1172.00 L1733.33,1172.17 L1737.33,1172.23 L1741.32,1172.23 L1745.32,1172.21 L1749.32,1172.22 L1753.32,1172.30 L1757.32,1172.43 L1761.32,1172.57 L1765.31,1172.74 L1769.31,1172.95 L1773.31,1173.20 L1777.31,1173.50 L1781.31,1173.88 L1785.31,1174.32 L1789.30,1174.81 L1793.30,1175.31 L1797.30,1175.82 L1801.30,1176.30 L1805.30,1176.76 L1809.30,1177.22 L1813.29,1177.68 L1817.29,1178.13 L1821.29,1178.57 L1825.29,1179.00 L1829.29,1179.41 L1833.29,1179.80 L1837.28,1180.18 L1841.28,1180.55 L1845.28,1180.92 L1849.28,1181.30 L1853.28,1181.68 L1857.28,1182.06 L1861.27,1182.44 L1865.27,1182.83 L1869.27,1183.21 L1873.27,1183.60 L1877.27,1183.99 L1881.27,1184.38 L1885.26,1184.77 L1889.26,1185.17 L1893.26,1185.58 L1897.26,1186.00 L1901.26,1186.45 L1905.26,1186.92 L1909.25,1187.41 L1913.25,1187.89 L1917.25,1188.36 L1921.25,1188.80 L1925.25,1189.21 L1929.25,1189.58 L1933.24,1189.94 L1937.24,1190.31 L1941.24,1190.69 L1945.24,1191.10 L1949.24,1191.56 L1953.24,1192.05 L1957.23,1192.56 L1961.23,1193.06 L1965.23,1193.55 L1969.23,1194.00 L1973.23,1194.41 L1977.23,1194.81 L1981.22,1195.18 L1985.22,1195.54 L1989.22,1195.88 L1993.22,1196.20 L1997.22,1196.49 L2001.22,1196.74 L2005.21,1196.98 L2009.21,1197.21 L2013.21,1197.48 L2017.21,1197.80 L2021.21,1198.19 L2025.21,1198.64 L2029.20,1199.12 L2033.20,1199.59 L2037.20,1200.03 L2041.20,1200.40 L2045.20,1200.70 L2049.20,1200.96 L2053.19,1201.19 L2057.19,1201.38 L2061.19,1201.55 L2065.19,1201.70 L2069.19,1201.82 L2073.19,1201.90 L2077.18,1201.96 L2081.18,1202.01 L2085.18,1202.05 L2089.18,1202.10 L2093.18,1202.17 L2097.18,1202.25 L2101.17,1202.33 L2105.17,1202.39 L2109.17,1202.42 L2113.17,1202.40 L2117.17,1202.30 L2121.17,1202.12 L2125.16,1201.91 L2129.16,1201.70 L2133.16,1201.55 L2137.16,1201.50 L2141.44,1201.57 L2146.05,1201.73 L2150.65,1201.94 L2154.93,1202.17 L2158.54,1202.37 L2161.15,1202.50" fill="none" stroke="#0000ff" stroke-width="3.6" stroke-dasharray="28.86 16.51 10.41 16.66 43.42 16.51 10.41 16.76 43.62 16.61 10.41 17.09 44.29 16.94 10.41 16.05 42.31 16.52 10.81 16.77 42.75 16.16 10.43 16.34 42.82 16.19 10.44 17.26 44.66 17.11 10.44 16.85 43.79 16.64 10.49 16.79 43.77 16.64 10.49 16.79 43.87 16.68 10.52 16.84 43.91 16.78 10.51 17.21 45.44 18.01 11.19 17.98 47.07 18.14 11.55 18.40 48.84 18.73 11.89 19.24 50.12 19.10 11.93 19.04 49.66 18.87 11.93 19.00 49.57 18.83 11.91 19.09 48.50 17.78 10.90 17.52 45.45 17.25 10.86 17.39 45.71 17.89 11.37 18.47 48.70 17.84 10.97 17.43 45.17 17.12 10.73 17.26 44.99 17.19 10.77 17.67 45.82 17.54 10.85 17.54 46.56 17.96 11.32 18.28 48.58 18.75 11.82 18.98 49.66 18.92 11.92 19.09 49.81 18.93 11.90 18.98 49.55 18.82 11.91 19.07 49.72 18.91 11.92 19.06 49.67 18.90 11.93 19.10 45.84 1000.00"/></g>
<path d="M360.1,198.2 H2163.4" stroke="#0000ff" stroke-width="3.9" fill="none"/>
<path d="M2161.15,196.3 V1247.5" stroke="#0000ff" stroke-width="4.6" fill="none"/>
<line x1="361.9" y1="198.2" x2="361.9" y2="216.2" stroke="#0000ff" stroke-width="3.7"/>
<line x1="601.8" y1="198.2" x2="601.8" y2="216.2" stroke="#0000ff" stroke-width="3.7"/>
<line x1="841.7" y1="198.2" x2="841.7" y2="216.2" stroke="#0000ff" stroke-width="3.7"/>
<line x1="1081.6" y1="198.2" x2="1081.6" y2="216.2" stroke="#0000ff" stroke-width="3.7"/>
<line x1="1321.5" y1="198.2" x2="1321.5" y2="216.2" stroke="#0000ff" stroke-width="3.7"/>
<line x1="1561.4" y1="198.2" x2="1561.4" y2="216.2" stroke="#0000ff" stroke-width="3.7"/>
<line x1="1801.3" y1="198.2" x2="1801.3" y2="216.2" stroke="#0000ff" stroke-width="3.7"/>
<line x1="2041.2" y1="198.2" x2="2041.2" y2="216.2" stroke="#0000ff" stroke-width="3.7"/>
<line x1="2161.1" y1="1245.6" x2="2142.1" y2="1245.6" stroke="#0000ff" stroke-width="3.7"/>
<line x1="2161.1" y1="1071.0" x2="2142.1" y2="1071.0" stroke="#0000ff" stroke-width="3.7"/>
<line x1="2161.1" y1="896.5" x2="2142.1" y2="896.5" stroke="#0000ff" stroke-width="3.7"/>
<line x1="2161.1" y1="721.9" x2="2142.1" y2="721.9" stroke="#0000ff" stroke-width="3.7"/>
<line x1="2161.1" y1="547.3" x2="2142.1" y2="547.3" stroke="#0000ff" stroke-width="3.7"/>
<line x1="2161.1" y1="372.8" x2="2142.1" y2="372.8" stroke="#0000ff" stroke-width="3.7"/>
<line x1="2161.1" y1="198.2" x2="2142.1" y2="198.2" stroke="#0000ff" stroke-width="3.7"/>
<text transform="translate(361.9,1326.5) scale(1.0684,1.0)" font-size="69.28" fill="#222222" text-anchor="middle" style="">0</text>
<text transform="translate(601.8,1326.5) scale(1.0684,1.0)" font-size="69.28" fill="#222222" text-anchor="middle" style="">10</text>
<text transform="translate(841.7,1326.5) scale(1.0684,1.0)" font-size="69.28" fill="#222222" text-anchor="middle" style="">20</text>
<text transform="translate(1081.6,1326.5) scale(1.0684,1.0)" font-size="69.28" fill="#222222" text-anchor="middle" style="">30</text>
<text transform="translate(1321.5,1326.5) scale(1.0684,1.0)" font-size="69.28" fill="#222222" text-anchor="middle" style="">40</text>
<text transform="translate(1561.4,1326.5) scale(1.0684,1.0)" font-size="69.28" fill="#222222" text-anchor="middle" style="">50</text>
<text transform="translate(1801.3,1326.5) scale(1.0684,1.0)" font-size="69.28" fill="#222222" text-anchor="middle" style="">60</text>
<text transform="translate(2041.2,1326.5) scale(1.0684,1.0)" font-size="69.28" fill="#222222" text-anchor="middle" style="">70</text>
<text transform="translate(361.9,161.1) scale(1.0736,1.0)" font-size="68.2" fill="#0000ff" text-anchor="middle" style="">180</text>
<text transform="translate(601.8,161.1) scale(1.0736,1.0)" font-size="68.2" fill="#0000ff" text-anchor="middle" style="">170</text>
<text transform="translate(841.7,161.1) scale(1.0736,1.0)" font-size="68.2" fill="#0000ff" text-anchor="middle" style="">160</text>
<text transform="translate(1081.6,161.1) scale(1.0736,1.0)" font-size="68.2" fill="#0000ff" text-anchor="middle" style="">150</text>
<text transform="translate(1321.5,161.1) scale(1.0736,1.0)" font-size="68.2" fill="#0000ff" text-anchor="middle" style="">140</text>
<text transform="translate(1561.4,161.1) scale(1.0736,1.0)" font-size="68.2" fill="#0000ff" text-anchor="middle" style="">130</text>
<text transform="translate(1801.3,161.1) scale(1.0736,1.0)" font-size="68.2" fill="#0000ff" text-anchor="middle" style="">120</text>
<text transform="translate(2041.2,161.1) scale(1.0736,1.0)" font-size="68.2" fill="#0000ff" text-anchor="middle" style="">110</text>
<text transform="translate(320.2,1245.6) rotate(-90) scale(0.8461,1.0)" font-size="76.75" fill="#222222" text-anchor="middle" style="">0</text>
<text transform="translate(320.2,1071.0) rotate(-90) scale(0.8461,1.0)" font-size="76.75" fill="#222222" text-anchor="middle" style="">0.025</text>
<text transform="translate(320.2,896.5) rotate(-90) scale(0.8461,1.0)" font-size="76.75" fill="#222222" text-anchor="middle" style="">0.05</text>
<text transform="translate(320.2,721.9) rotate(-90) scale(0.8461,1.0)" font-size="76.75" fill="#222222" text-anchor="middle" style="">0.075</text>
<text transform="translate(320.2,547.3) rotate(-90) scale(0.8461,1.0)" font-size="76.75" fill="#222222" text-anchor="middle" style="">0.1</text>
<text transform="translate(320.2,372.8) rotate(-90) scale(0.8461,1.0)" font-size="76.75" fill="#222222" text-anchor="middle" style="">0.125</text>
<text transform="translate(2253.4,1245.6) rotate(-90) scale(0.8349,1.0)" font-size="78.39" fill="#0000ff" text-anchor="middle" style="">0</text>
<text transform="translate(2253.4,1071.0) rotate(-90) scale(0.8349,1.0)" font-size="78.39" fill="#0000ff" text-anchor="middle" style="">0.1</text>
<text transform="translate(2253.4,896.5) rotate(-90) scale(0.8349,1.0)" font-size="78.39" fill="#0000ff" text-anchor="middle" style="">0.2</text>
<text transform="translate(2253.4,721.9) rotate(-90) scale(0.8349,1.0)" font-size="78.39" fill="#0000ff" text-anchor="middle" style="">0.3</text>
<text transform="translate(2253.4,547.3) rotate(-90) scale(0.8349,1.0)" font-size="78.39" fill="#0000ff" text-anchor="middle" style="">0.4</text>
<text transform="translate(2253.4,372.8) rotate(-90) scale(0.8349,1.0)" font-size="78.39" fill="#0000ff" text-anchor="middle" style="">0.5</text>
<text transform="translate(2253.4,198.2) rotate(-90) scale(0.8349,1.0)" font-size="78.39" fill="#0000ff" text-anchor="middle" style="">0.6</text>
<text transform="translate(1264.5,82.8) scale(1.1628,1.0)" font-size="64.65" fill="#0000ff" text-anchor="middle" style="">scattering angle [°]</text>
<text transform="translate(1261.6,1414.0) scale(1.1659,1.0)" font-size="64.47" fill="#222222" text-anchor="middle" style="">solar zenith angle [°]</text>
<text transform="translate(100.7,721.5) rotate(-90) scale(0.8775,1.0)" font-size="75.0" fill="#222222" text-anchor="middle" style="">cloud reflectance in zenith</text>
<g transform="translate(188,881.8) rotate(-90)">
<text transform="translate(15.95,0) scale(0.85,1)" font-size="75" fill="#222222" text-anchor="middle" font-style="italic">τ</text>
<text transform="translate(42.9,37) scale(0.85,1)" font-size="62" fill="#222222" text-anchor="middle">c</text>
<text transform="translate(77.25,0) scale(0.85,1)" font-size="75" fill="#222222" text-anchor="middle">=</text>
<text transform="translate(111.65,0) scale(0.85,1)" font-size="75" fill="#222222" text-anchor="middle" font-style="italic">7</text>
<text transform="translate(136.95,0) scale(0.85,1)" font-size="75" fill="#222222" text-anchor="middle" font-style="italic">,</text>
<text transform="translate(183,0) scale(0.85,1)" font-size="75" fill="#222222" text-anchor="middle" font-style="italic">ω</text>
<text transform="translate(225.05,0) scale(0.85,1)" font-size="75" fill="#222222" text-anchor="middle">=</text>
<text transform="translate(260.35,0) scale(0.85,1)" font-size="75" fill="#222222" text-anchor="middle">0</text>
<text transform="translate(285.1,0) scale(0.85,1)" font-size="75" fill="#222222" text-anchor="middle">.</text>
<text transform="translate(309.8,0) scale(0.85,1)" font-size="75" fill="#222222" text-anchor="middle">8</text>
</g>
<text transform="translate(2355.0,720.1) rotate(-90) scale(0.9034,1.0)" font-size="75.25" fill="#0000ff" text-anchor="middle" style="">phase function <tspan font-style="italic">p</tspan>(<tspan font-style="italic">ϑ</tspan>)</text>
<text transform="translate(939.63,322.54) scale(0.9057,0.7647)" font-size="100" fill="#0000ff" font-style="italic">p</text>
<text transform="translate(988.62,323.06) scale(0.8462,0.8878)" font-size="100" fill="#0000ff">(</text>
<text transform="translate(1017.62,323.16) scale(0.9959,0.8429)" font-size="100" fill="#0000ff" font-style="italic">ϑ</text>
<text transform="translate(1076.21,323.06) scale(0.8308,0.8878)" font-size="100" fill="#0000ff">)</text>
<text transform="translate(959.51,399.42) scale(0.7871,0.5077)" font-size="100" fill="#000">˜</text>
<text transform="translate(940.80,427.10) scale(0.9051,0.7015)" font-size="100" fill="#000" font-style="italic">R</text>
<text transform="translate(1016.20,426.10) scale(0.7250,0.5958)" font-size="100" fill="#000">:</text>
<text transform="translate(1057.29,425.99) scale(0.8034,0.7075)" font-size="100" fill="#000">DISORT</text>
<text transform="translate(1679.43,291.29) scale(0.7677,0.4462)" font-size="100" fill="#000">˜</text>
<text transform="translate(1659.90,323.50) scale(0.9136,0.7323)" font-size="100" fill="#000" font-style="italic">R</text>
<text transform="translate(1733.44,320.98) scale(0.9511,0.4800)" font-size="100" fill="#000">−</text>
<text transform="translate(1809.00,323.50) scale(0.9034,0.7323)" font-size="100" fill="#000" font-style="italic">R</text>
<text transform="translate(1861.91,331.75) scale(0.5471,0.4479)" font-size="100" fill="#000">ss</text>
<text transform="translate(1679.43,395.89) scale(0.7677,0.4462)" font-size="100" fill="#000">˜</text>
<text transform="translate(1659.90,427.50) scale(0.9136,0.7046)" font-size="100" fill="#000" font-style="italic">R</text>
<text transform="translate(1733.44,429.28) scale(0.9511,0.5800)" font-size="100" fill="#000">−</text>
<text transform="translate(1809.00,427.50) scale(0.9034,0.7046)" font-size="100" fill="#000" font-style="italic">R</text>
<text transform="translate(1863.55,435.57) scale(0.5742,0.4444)" font-size="100" fill="#000">ph</text>
<text transform="translate(1656.64,527.33) scale(0.7893,0.6511)" font-size="100" fill="#ff0000">Improved</text>
<text transform="translate(1994.90,530.10) scale(0.8390,0.7262)" font-size="100" fill="#ff0000" font-style="italic">R</text>
<text transform="translate(2044.80,538.16) scale(0.5495,0.4354)" font-size="100" fill="#ff0000">ms</text>
<line x1="673.6" y1="303.3" x2="913.9" y2="303.3" stroke="#0000ff" stroke-width="3.3" stroke-dasharray="49.8 18.9 11.9 19.1"/>
<line x1="673.6" y1="400.3" x2="913.9" y2="400.3" stroke="#000" stroke-width="3.3"/>
<line x1="1405.8" y1="303.3" x2="1645.2" y2="303.3" stroke="#000" stroke-width="3.3" stroke-dasharray="62.5 36.6"/>
<line x1="1405.8" y1="407.6" x2="1634" y2="407.6" stroke="#000" stroke-width="9" stroke-dasharray="6.5 18.4"/>
<path d="M1404.5,505.8 H1454.5" stroke="#ff0000" stroke-width="3.7" fill="none"/><path d="M1429.5,483.5 V527.1" stroke="#ff0000" stroke-width="3.9" fill="none"/>
<path d="M1464.8,505.8 H1514.8" stroke="#ff0000" stroke-width="3.7" fill="none"/><path d="M1489.8,483.5 V527.1" stroke="#ff0000" stroke-width="3.9" fill="none"/>
<path d="M1524.6,505.8 H1574.6" stroke="#ff0000" stroke-width="3.7" fill="none"/><path d="M1549.6,483.5 V527.1" stroke="#ff0000" stroke-width="3.9" fill="none"/>
<path d="M1584.4,505.8 H1634.4" stroke="#ff0000" stroke-width="3.7" fill="none"/><path d="M1609.4,483.5 V527.1" stroke="#ff0000" stroke-width="3.9" fill="none"/>
</svg>
</body></html>
